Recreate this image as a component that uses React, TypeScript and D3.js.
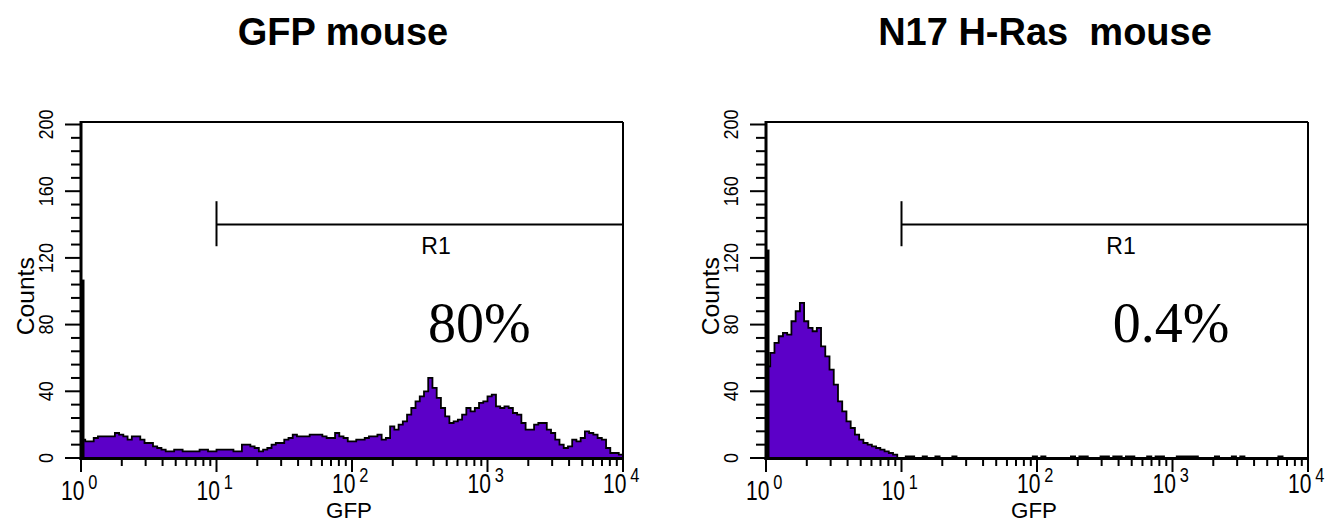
import React from 'react';
import * as d3 from 'd3';

// 128 channels, 32 per decade, from 10^0 to 10^4
const binsPerDecade = 32;

const gfpCounts = [
  11, 10, 10, 12, 13, 13, 13, 13, 15, 14,
  13, 11, 13, 13, 11, 9, 9, 7, 6, 5,
  4, 4, 5, 5, 4, 4, 4, 4, 5, 5,
  4, 4, 5, 5, 5, 5, 4, 4, 8, 8,
  7, 6, 4, 5, 6, 8, 9, 9, 11, 12,
  14, 13, 13, 13, 14, 14, 14, 13, 12, 12,
  15, 13, 12, 10, 10, 11, 11, 12, 13, 13,
  14, 11, 12, 19, 17, 20, 22, 26, 30, 34,
  37, 40, 48, 42, 36, 30, 25, 21, 22, 23,
  26, 30, 28, 30, 33, 34, 37, 38, 31, 30,
  31, 30, 27, 26, 21, 17, 17, 20, 21, 21,
  17, 15, 11, 8, 6, 7, 11, 10, 12, 16,
  15, 14, 12, 11, 6, 3, 3, 2,
];

const n17Counts = [
  55, 63, 69, 73, 75, 74, 82, 88, 93, 82,
  78, 76, 78, 67, 61, 53, 44, 34, 28, 22,
  18, 14, 11, 9, 8, 7, 6, 5, 4, 3,
  2, 0, 0, 1, 1, 0, 0, 1, 0, 0,
  1, 0, 0, 0, 1, 0, 0, 0, 0, 0,
  0, 0, 0, 0, 0, 0, 0, 0, 0, 0,
  0, 0, 0, 1, 0, 1, 0, 0, 0, 0,
  0, 0, 1, 0, 1, 1, 0, 0, 0, 1,
  1, 0, 1, 1, 0, 1, 1, 0, 0, 0,
  1, 0, 1, 1, 0, 0, 0, 1, 1, 1,
  1, 1, 0, 0, 0, 0, 1, 0, 0, 0,
  1, 0, 1, 0, 0, 0, 0, 0, 0, 0,
  0, 1, 0, 0, 0, 0, 0, 0,
];

const gfpFirstChannel = 107;
const n17FirstChannel = 125;

const yMajorTicks = [0, 40, 80, 120, 160, 200];
const yMinorStep = 8;
const xDecades = [1, 10, 100, 1000, 10000];
const xExponents = ['0', '1', '2', '3', '4'];

const titles = ['GFP mouse', 'N17 H-Ras  mouse'];
const percentLabels = ['80%', '0.4%'];
const percentAt = [870, 977]; // GFP value where the percentage label is centred
const gateRange = [10, 10000];
const gateLevel = 140;
const gateTick = [127, 154];
const regionName = 'R1';
const regionLabelAt = 417;

const PURPLE = '#5c00c8';
const SANS = "'Liberation Sans', Arial, Helvetica, sans-serif";
const SERIF = "'Liberation Serif', 'Times New Roman', Times, serif";

type PanelProps = {
  x0: number;
  title: string;
  titleX: number;
  counts: number[];
  first: number;
  pct: string;
  pctAt: number;
};

function Panel({ x0, title, titleX, counts, first, pct, pctAt }: PanelProps) {
  const W = 542;
  const x = d3.scaleLog().domain([1, 1e4]).range([x0, x0 + W]);
  const y = d3.scaleLinear().domain([0, 200]).range([458, 124.5]);
  const frameTop = 122;
  const base = y(0);

  const pts: [number, number][] = counts.map((c, i) => [Math.pow(10, i / binsPerDecade), c]);
  pts.push([1e4, counts[counts.length - 1]]);

  const area = d3
    .area<[number, number]>()
    .x((d) => x(d[0]))
    .y0(base)
    .y1((d) => y(d[1]))
    .curve(d3.curveStepAfter);
  const line = d3
    .line<[number, number]>()
    .x((d) => x(d[0]))
    .y((d) => y(d[1]))
    .curve(d3.curveStepAfter);

  const minorX: number[] = [];
  for (let d = 0; d < 4; d++) for (let m = 2; m <= 9; m++) minorX.push(m * Math.pow(10, d));
  const minorY = d3.range(0, 201, yMinorStep).filter((v) => v % 40 !== 0);

  return (
    <g>
      <text
        x={titleX}
        y={45}
        textAnchor="middle"
        fontFamily={SANS}
        fontWeight="bold"
        fontSize={38}
        style={{ whiteSpace: 'pre' }}
      >
        {title}
      </text>

      {/* histogram */}
      <path d={area(pts) || ''} fill={PURPLE} />
      <path d={line(pts) || ''} fill="none" stroke="#000" strokeWidth={1.8} />
      <rect x={x(1)} y={y(first)} width={3.5} height={base - y(first)} fill="#000" />

      {/* frame */}
      <line x1={x0} x2={x0 + W} y1={frameTop} y2={frameTop} stroke="#000" strokeWidth={2} />
      <line x1={x0 + W} x2={x0 + W} y1={frameTop} y2={base + 1} stroke="#000" strokeWidth={2} />
      <line x1={x0} x2={x0} y1={frameTop - 1} y2={base + 2} stroke="#000" strokeWidth={3} />
      <line x1={x0 - 1.5} x2={x0 + W + 1} y1={base + 0.5} y2={base + 0.5} stroke="#000" strokeWidth={3} />

      {/* y ticks */}
      {yMajorTicks.map((v) => (
        <g key={'ym' + v}>
          <line x1={x0 - 16} x2={x0} y1={y(v)} y2={y(v)} stroke="#000" strokeWidth={2} />
          <text
            transform={`translate(${x0 - 28},${y(v)}) rotate(-90)`}
            textAnchor="middle"
            fontFamily={SANS}
            fontSize={21}
            textLength={String(v).length * 10}
            lengthAdjust="spacingAndGlyphs"
          >
            {v}
          </text>
        </g>
      ))}
      {minorY.map((v) => (
        <line key={'yn' + v} x1={x0 - 10} x2={x0} y1={y(v)} y2={y(v)} stroke="#000" strokeWidth={2} />
      ))}
      <text
        transform={`translate(${x0 - 47},${y(100) + 5}) rotate(-90)`}
        textAnchor="middle"
        fontFamily={SANS}
        fontSize={23}
        textLength={78}
        lengthAdjust="spacingAndGlyphs"
      >
        Counts
      </text>

      {/* x ticks */}
      {xDecades.map((v, i) => {
        const by = i < 2 ? 500 : 493;
        return (
          <g key={'xm' + v}>
            <line x1={x(v)} x2={x(v)} y1={base} y2={base + 14} stroke="#000" strokeWidth={2} />
            <text
              transform={`translate(${x(v) - 20},${by}) scale(0.78,1)`}
              textAnchor="start"
              fontFamily={SANS}
              fontSize={27}
            >
              10
              <tspan dx={5} dy={-11} fontSize={21}>
                {xExponents[i]}
              </tspan>
            </text>
          </g>
        );
      })}
      {minorX.map((v) => (
        <line key={'xn' + v} x1={x(v)} x2={x(v)} y1={base} y2={base + 8} stroke="#000" strokeWidth={2} />
      ))}
      <text
        x={x(100) - 3}
        y={518}
        textAnchor="middle"
        fontFamily={SANS}
        fontSize={22}
        textLength={46}
        lengthAdjust="spacingAndGlyphs"
      >
        GFP
      </text>

      {/* gate R1 */}
      <line
        x1={x(gateRange[0])}
        x2={x(gateRange[1])}
        y1={y(gateLevel)}
        y2={y(gateLevel)}
        stroke="#000"
        strokeWidth={2}
      />
      <line
        x1={x(gateRange[0])}
        x2={x(gateRange[0])}
        y1={y(gateTick[0])}
        y2={y(gateTick[1])}
        stroke="#000"
        strokeWidth={2}
      />
      <text x={x(regionLabelAt)} y={254} textAnchor="middle" fontFamily={SANS} fontSize={23}>
        {regionName}
      </text>

      <text x={x(pctAt)} y={342} textAnchor="middle" fontFamily={SERIF} fontSize={56}>
        {pct}
      </text>
    </g>
  );
}

export default function App() {
  return (
    <svg
      width={1326}
      height={527}
      viewBox="0 0 1326 527"
      style={{ position: 'absolute', left: 0, top: 0, background: '#fff' }}
    >
      <rect width={1326} height={527} fill="#fff" />
      <Panel
        x0={81}
        title={titles[0]}
        titleX={343}
        counts={gfpCounts}
        first={gfpFirstChannel}
        pct={percentLabels[0]}
        pctAt={percentAt[0]}
      />
      <Panel
        x0={766}
        title={titles[1]}
        titleX={1045}
        counts={n17Counts}
        first={n17FirstChannel}
        pct={percentLabels[1]}
        pctAt={percentAt[1]}
      />
    </svg>
  );
}
